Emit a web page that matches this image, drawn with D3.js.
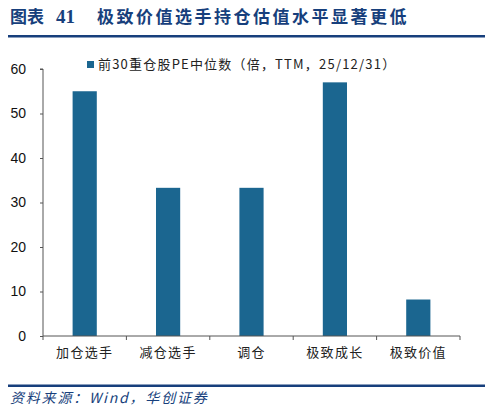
<!DOCTYPE html>
<html><head><meta charset="utf-8">
<script src="https://cdn.jsdelivr.net/npm/d3@7"></script>
<style>body{margin:0;background:#fff;}svg{display:block;}</style>
</head><body>
<svg id="c" width="494" height="415"></svg>
<script>
const categories = ["加仓选手","减仓选手","调仓","极致成长","极致价值"];
const values = [55, 33.3, 33.3, 57, 8.2];
const yTicks = [0,10,20,30,40,50,60];
const seriesName = "前30重仓股PE中位数（倍，TTM，25/12/31）";
const titleText = "图表";
const titleNum = "41";
const titleMain = "极致价值选手持仓估值水平显著更低";
const sourceText = "资料来源：Wind，华创证券";

(function(){
const svg = d3.select("#c");
const navy = "#173f7c";
const barColor = "#1b6690";
const mL = 43, mR = 460, mT = 69, mB = 336;

// title
svg.append("text").attr("x",10).attr("y",23).attr("fill",navy)
  .attr("font-family","Noto Sans CJK SC").attr("font-weight","bold").attr("font-size",17)
  .text(titleText);
svg.append("text").attr("x",56).attr("y",23).attr("fill",navy)
  .attr("font-family","Liberation Serif").attr("font-weight","bold").attr("font-size",19)
  .text(titleNum);
svg.append("text").attr("x",97).attr("y",23).attr("fill",navy)
  .attr("font-family","Noto Sans CJK SC").attr("font-weight","bold").attr("font-size",17)
  .attr("letter-spacing",2.5)
  .text(titleMain);
svg.append("rect").attr("x",8).attr("y",35).attr("width",477).attr("height",2.5).attr("fill",navy);

const x = d3.scaleBand().domain(categories).range([mL,mR]).paddingInner(0.71).paddingOuter(0.355);
const y = d3.scaleLinear().domain([0,60]).range([mB,mT]);

svg.append("g").selectAll("rect").data(values).join("rect")
  .attr("x",(d,i)=>x(categories[i])).attr("width",x.bandwidth())
  .attr("y",d=>y(d)).attr("height",d=>y(0)-y(d))
  .attr("fill",barColor);

// y axis
const ya = svg.append("g").attr("transform",`translate(${mL},0)`)
  .call(d3.axisLeft(y).tickValues(yTicks).tickSize(3).tickPadding(14));
ya.select(".domain").attr("stroke","#555").attr("d",`M-3,${mT}H0V${mB}`);
ya.selectAll(".tick line").attr("stroke","#555");
ya.selectAll("text").attr("font-family","Liberation Sans").attr("font-size",14).attr("fill","#111");

// x axis
const xa = svg.append("g").attr("transform",`translate(0,${mB})`)
  .call(d3.axisBottom(x).tickSize(0).tickPadding(12));
xa.select(".domain").attr("stroke","#555").attr("d",`M${mL},0H${mR}`);
xa.selectAll("text").attr("font-family","Noto Sans CJK SC").attr("font-size",13)
  .attr("letter-spacing",1.3).attr("fill","#222");
const edges = d3.range(categories.length+1).map(i=>mL + i*(mR-mL)/categories.length);
svg.append("g").selectAll("line").data(edges).join("line")
  .attr("x1",d=>d).attr("x2",d=>d).attr("y1",mB).attr("y2",mB+4)
  .attr("stroke","#555");

// legend
svg.append("rect").attr("x",87).attr("y",61).attr("width",7).attr("height",7).attr("fill",barColor);
svg.append("text").attr("x",98).attr("y",69).attr("font-family","Noto Sans CJK SC")
  .attr("font-size",13).attr("letter-spacing",1.2).attr("fill","#222").text(seriesName);

// source
svg.append("rect").attr("x",8).attr("y",384.5).attr("width",477).attr("height",2.5).attr("fill",navy);
svg.append("text").attr("x",10).attr("y",403).attr("fill",navy)
  .attr("font-family","Noto Sans CJK SC").attr("font-style","italic").attr("font-size",14)
  .attr("letter-spacing",1.8)
  .text(sourceText);
})();
</script>
</body></html>
